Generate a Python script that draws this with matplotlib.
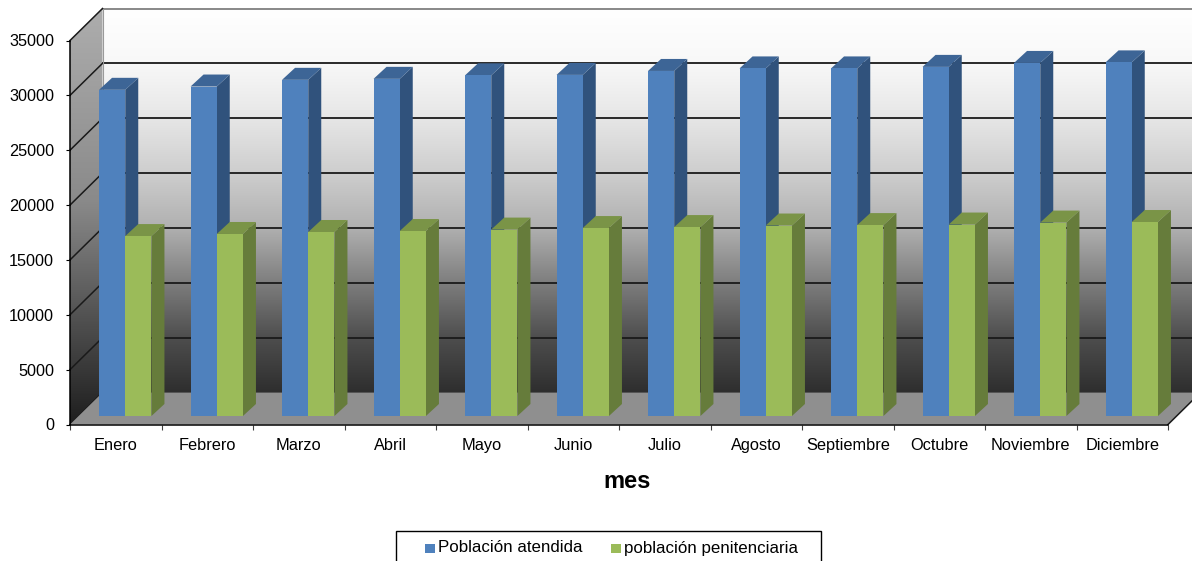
import numpy as np
import matplotlib
matplotlib.use("Agg")
import matplotlib.pyplot as plt
from matplotlib.colors import LinearSegmentedColormap
from matplotlib.patches import Polygon, Rectangle

meses = ["Enero", "Febrero", "Marzo", "Abril", "Mayo", "Junio", "Julio",
         "Agosto", "Septiembre", "Octubre", "Noviembre", "Diciembre"]
atendida = [29730, 30030, 30640, 30730, 31050, 31090, 31450, 31680, 31680, 31820, 32180, 32230]
penitenciaria = [16400, 16590, 16770, 16860, 16990, 17130, 17220, 17360, 17400, 17450, 17630, 17680]
y_ticks = [0, 5000, 10000, 15000, 20000, 25000, 30000, 35000]

W, H = 1192, 561
plt.rcParams["font.family"] = ["Liberation Sans", "DejaVu Sans"]

fig = plt.figure(figsize=(W / 100, H / 100), dpi=100)
# axes is the front plane of the 3d box
left, right, bottom, top = 70, 1168, 424.5, 40.5
ax = fig.add_axes([left / W, 1 - bottom / H, (right - left) / W, (bottom - top) / H])
ax.patch.set_visible(False)

# pixels to data units
ux = 12 / (right - left)
uy = 35000 / (bottom - top)
dx, dy = 32.5 * ux, 32 * uy          # box depth
px, py = 9.5 * ux, 8.5 * uy          # plane of the bars
bx, by = 13 * ux, 12 * uy            # bar depth
bw = 26.2 * ux


def gradient(colors, poly, zorder):
    cmap = LinearSegmentedColormap.from_list("g", colors)
    xs = [p[0] for p in poly]
    ys = [p[1] for p in poly]
    im = ax.imshow(np.linspace(1, 0, 256).reshape(-1, 1), cmap=cmap, aspect="auto",
                   extent=[min(xs), max(xs), min(ys), max(ys)], zorder=zorder)
    # walls stick out of the axes, so clip to the figure and the wall shape only
    im.set_clip_box(fig.bbox)
    im.set_clip_path(Polygon(poly, transform=ax.transData))


top_back = 35000 + dy
far = 13
# back wall
gradient([(0, "#2e2e2e"), (0.14, "#4d4d4d"), (0.285, "#7d7d7d"), (0.43, "#b0b0b0"),
          (0.57, "#cdcdcd"), (0.714, "#e6e6e6"), (0.86, "#f8f8f8"), (1, "#ffffff")],
         [(dx, dy), (far, dy), (far, top_back), (dx, top_back)], 1)
# left wall
gradient([(0, "#1e1e1e"), (0.107, "#333333"), (0.3, "#5a5a5a"), (0.54, "#8a8a8a"), (1, "#adadad")],
         [(0, 0), (dx, dy), (dx, top_back), (0, 35000)], 1)

# grid lines
for v in y_ticks:
    col = "#7f7f7f" if v == 35000 else "#1a1a1a"
    ax.plot([dx, far], [v + dy, v + dy], color=col, lw=1.3, zorder=2, clip_on=False)
    ax.plot([0, dx], [v, v + dy], color="#1a1a1a", lw=1.1, zorder=2, clip_on=False)
ax.plot([dx, dx], [dy, top_back], color="#9a9a9a", lw=0.8, zorder=2, clip_on=False)

# floor
ax.add_patch(Polygon([(0, 0), (12, 0), (12 + dx, dy), (dx, dy)], facecolor="#8f8f8f",
                     edgecolor="none", zorder=3, clip_on=False))
ax.plot([12, 12 + dx], [0, dy], color="#1a1a1a", lw=1.1, zorder=3, clip_on=False)

# bars
series = [(atendida, 0, "#4f81bd", "#30527c", "#3d6596"),
          (penitenciaria, 1, "#9bbb59", "#667c3b", "#7a9447")]
for i in range(12):
    for vals, k, front, side, roof in series:
        x0 = i + 0.5 - bw + px + k * bw
        y0 = py
        h = vals[i]
        z = 4 + k
        ax.bar(x0, h, width=bw, bottom=y0, align="edge", color=front, zorder=z + 0.2, clip_on=False)
        ax.add_patch(Polygon([(x0 + bw, y0), (x0 + bw + bx, y0 + by), (x0 + bw + bx, y0 + h + by), (x0 + bw, y0 + h)],
                             facecolor=side, edgecolor="none", zorder=z, clip_on=False))
        ax.add_patch(Polygon([(x0, y0 + h), (x0 + bx, y0 + h + by), (x0 + bw + bx, y0 + h + by), (x0 + bw, y0 + h)],
                             facecolor=roof, edgecolor="none", zorder=z + 0.1, clip_on=False))

ax.set_xlim(0, 12)
ax.set_ylim(0, 35000)
ax.set_xticks(range(13))
ax.set_xticklabels([])
ax.set_xticks(np.arange(12) + 0.5, meses, minor=True)
ax.tick_params(axis="x", which="major", length=3.5, width=0.8, color="#404040", direction="out")
ax.tick_params(axis="x", which="minor", length=0, labelsize=11.8, pad=10)
ax.set_yticks(y_ticks)
ax.tick_params(axis="y", length=3, width=0.8, direction="out", labelsize=11.7, pad=8.5)
for s in ["top", "right"]:
    ax.spines[s].set_visible(False)
for s in ["left", "bottom"]:
    ax.spines[s].set_linewidth(1.1)
    ax.spines[s].set_zorder(6)

fig.text(627 / W, 1 - 481.5 / H, "mes", fontsize=17, fontweight="bold", ha="center", va="center")


def fig_rect(x0, y0, x1, y1, **kw):
    fig.add_artist(Rectangle((x0 / W, 1 - y1 / H), (x1 - x0) / W, (y1 - y0) / H,
                             transform=fig.transFigure, **kw))


# legend box runs off the bottom of the picture
fig_rect(396, 530.5, 821, 575, facecolor="white", edgecolor="black", lw=1)
fig_rect(425, 544, 434.5, 553, facecolor="#4f81bd", edgecolor="none")
fig_rect(611, 544, 620.5, 553, facecolor="#9bbb59", edgecolor="none")
fig.text(438 / W, 1 - 548 / H, "Población atendida", fontsize=12.2, ha="left", va="center")
fig.text(623.5 / W, 1 - 548 / H, "población penitenciaria", fontsize=12.2, ha="left", va="center")

fig.savefig("out.png", dpi=100)
